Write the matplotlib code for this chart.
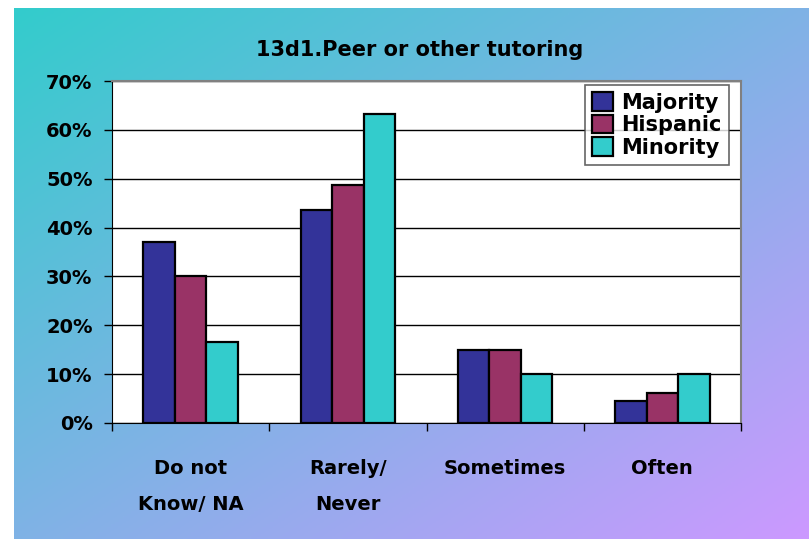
import numpy as np
import matplotlib

matplotlib.use("Agg")
import matplotlib.pyplot as plt
from matplotlib.colors import LinearSegmentedColormap

categories = ["Do not\nKnow/ NA", "Rarely/\nNever", "Sometimes", "Often"]
series = ["Majority", "Hispanic", "Minority"]
majority = [37.0, 43.5, 15.0, 4.5]
hispanic = [30.0, 48.8, 15.0, 6.2]
minority = [16.6, 63.3, 10.0, 10.0]
colors = ["#333399", "#993366", "#33CCCC"]
yticks = [0, 10, 20, 30, 40, 50, 60, 70]

plt.rcParams["font.family"] = ["DejaVu Sans"]
plt.rcParams["font.weight"] = "bold"

W, H = 809, 539
fig = plt.figure(figsize=(W / 100, H / 100), dpi=100)

# gradient background (teal top-left -> lavender bottom-right)
bg = fig.add_axes([14 / W, 0, 1 - 14 / W, 1 - 8 / H], zorder=0)
gx, gy = np.meshgrid(np.linspace(0, 1, 200), np.linspace(0, 1, 200))
grad = (gx + gy) / 2
cmap = LinearSegmentedColormap.from_list("bg", ["#33CCCC", "#CC99FF"])
bg.imshow(grad, cmap=cmap, aspect="auto", extent=[0, 1, 0, 1], origin="upper")
bg.axis("off")

ax = fig.add_axes([112 / W, (H - 423) / H, 629 / W, 342 / H], zorder=1)
ax.set_facecolor("white")

x = np.arange(len(categories))
w = 0.2
for i, (vals, name) in enumerate(zip([majority, hispanic, minority], series)):
    ax.bar(x + (i - 1) * w, vals, width=w, color=colors[i], edgecolor="black",
           linewidth=1.6, label=name, zorder=3)

ax.set_xlim(-0.5, len(categories) - 0.5)
ax.set_ylim(0, 70)
ax.set_yticks(yticks)
ax.set_yticklabels([f"{v}%" for v in yticks], fontsize=14, fontweight="bold")
ax.yaxis.grid(True, color="black", linewidth=1.0, zorder=1)
ax.set_axisbelow(True)

ax.set_xticks(x)
ax.set_xticklabels(categories, fontsize=14, fontweight="bold", linespacing=2.15)
ax.set_xticks(np.arange(len(categories) + 1) - 0.5, minor=True)
ax.tick_params(axis="x", which="major", length=0, pad=26)
ax.tick_params(axis="x", which="minor", length=6, width=1, color="black")
ax.tick_params(axis="y", length=6, width=1, color="black", pad=8)

for s in ["top", "right"]:
    ax.spines[s].set_color("#808080")
    ax.spines[s].set_linewidth(1.5)
ax.spines["left"].set_color("black")
ax.spines["bottom"].set_color("black")

fig.text(420 / W, 1 - 50 / H, "13d1.Peer or other tutoring", ha="center",
         va="center", fontsize=15, fontweight="bold")

leg = ax.legend(loc="upper left", bbox_to_anchor=(585 / W, 1 - 85 / H),
                bbox_transform=fig.transFigure, fontsize=15, frameon=True,
                fancybox=False, handlelength=1.0, handleheight=1.0,
                labelspacing=0.1, handletextpad=0.4, borderpad=0.35,
                borderaxespad=0)
leg.get_frame().set_edgecolor("#404040")
leg.get_frame().set_linewidth(1.2)
for t in leg.get_texts():
    t.set_fontweight("bold")

fig.savefig("out.png", dpi=100)
